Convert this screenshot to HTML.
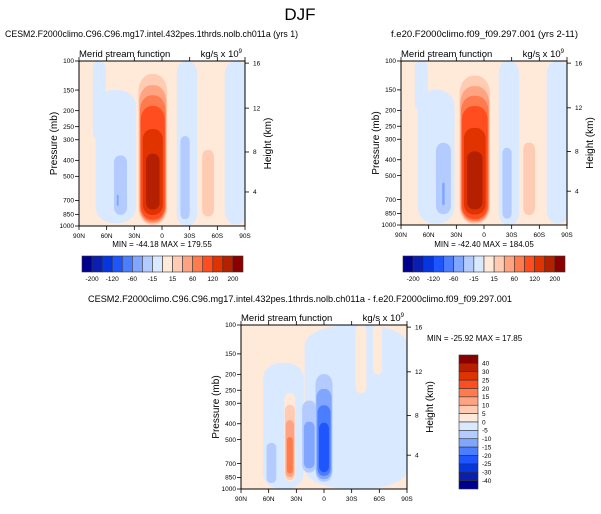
<!DOCTYPE html>
<html><head><meta charset="utf-8">
<style>
html,body{margin:0;padding:0;background:#fff;}
body{width:601px;height:509px;overflow:hidden;font-family:"Liberation Sans",sans-serif;}
svg text{font-family:"Liberation Sans",sans-serif;fill:#000;}
</style></head>
<body>
<svg id="chart" width="601" height="509" viewBox="0 0 601 509" xmlns="http://www.w3.org/2000/svg">
<text x="300" y="20" font-size="17" text-anchor="middle">DJF</text>
</svg>
<script>
// ---------- data ----------
const pressureTicks = [100,150,200,250,300,400,500,700,850,1000];
const heightTicksKm = [4,8,12,16];
const heightTickPressures = [622,356,193,103];
const latTicks = [90,60,30,0,-30,-60,-90];
const latTickLabels = ['90N','60N','30N','0','30S','60S','90S'];
const levelsMain = [-200,-160,-120,-80,-60,-40,-15,0,15,40,60,80,120,160,200];
const levelLabelsMain = ['-200','-120','-60','-15','15','60','120','200'];
const levelsDiff = [-40,-30,-25,-20,-15,-10,-5,0,5,10,15,20,25,30,40];
const palette = ['#00008f','#0a1fb0','#0536e0','#1e55ff','#4a7dff','#80a6ff','#b3cbff','#d9e9ff','#ffe9d9','#ffcbb3','#ffa482','#ff7a4d','#ff4d1f','#e03300','#b52000','#8a0000'];
// cells: [lat centre, lat half-width, p top, p bottom, peak value]
const cellsP1 = [
 [68,7,100,300,-10],[50,22,150,960,-10],[45,9,270,900,-30],[48,3,480,800,-42],
 [10,16,112,990,179],[-27,11,100,1000,-10],[-25,6,210,950,-38],
 [-50,8,250,920,32],[-80,12,100,980,-8]
];
const cellsP2 = [
 [68,7,100,200,-10],[52,20,150,980,-10],[44,10,230,900,-34],[44,4,300,850,-42],
 [10,17,115,990,184],[-27,11,100,1000,-10],[-25,6,260,950,-38],
 [-49,8,220,920,32],[-80,12,100,980,-8]
];
const cellsDiff = [
 [-35,56,100,1000,-4],[44,22,170,1000,-4],[-40,6,100,260,3],[-58,5,100,200,3],
 [57,7,400,960,-9],[16,9,230,820,-14],[0,10,170,920,-24],[37,6,260,900,18]
];
// ---------- helpers ----------
const NS='http://www.w3.org/2000/svg';
const svg=document.getElementById('chart');
function mk(tag,attrs,parent){const e=document.createElementNS(NS,tag);for(const k in attrs)e.setAttribute(k,attrs[k]);(parent||svg).appendChild(e);return e;}
function colorIndex(v,levels){let i=0;while(i<levels.length&&v>levels[i])i++;return i;}

function panel(opt){
 const {L,T,W,H,cells,levels,name}=opt;
 const g=mk('g',{});
 
 
 const xS=lat=>L+(90-lat)/180*W;
 const yS=p=>T+(Math.log10(p)-2)*H;
 const clipId='clip-'+name;
 const cp=mk('clipPath',{id:clipId},g);
 mk('rect',{x:L,y:T,width:W,height:H},cp);
 const fg=mk('g',{'clip-path':'url(#'+clipId+')'},g);
 const bg=mk('rect',{x:L,y:T,width:W,height:H,fill:palette[8]},fg);
 
 
 cells.forEach((c)=>{
  const [lat,hw,pt,pb,peak]=c;
  const lt=Math.log10(pt),lb=Math.log10(pb),span=lb-lt;
  const lv=levels.filter(l=>peak>0?(l>=0&&l<peak):(l<0&&l>peak));
  if(peak>0)lv.sort((a,b)=>a-b);else lv.sort((a,b)=>b-a);
  if(!lv.length) lv.push(0);
  lv.forEach(l=>{
   const s=Math.abs(l)/Math.abs(peak);
   const w=hw*Math.pow(Math.max(1-s,0.03),0.35);
   const top=lt+span*0.62*Math.pow(s,1.2);
   const bot=lb-span*0.12*Math.pow(s,1.5);
   const x1=xS(lat+w),x2=xS(lat-w);
   const y1=yS(Math.pow(10,top)),y2=yS(Math.pow(10,bot));
   const ci2=peak>0?colorIndex(l+0.001,levels):colorIndex(l-0.001,levels);
   const r=mk('rect',{x:x1,y:y1,width:x2-x1,height:y2-y1,rx:(x2-x1)*0.45,ry:Math.min((y2-y1)*0.12,(x2-x1)*0.6),fill:palette[ci2]},fg);
   
   
  });
 });
 const fr=mk('rect',{x:L,y:T,width:W,height:H,fill:'none',stroke:'#000','stroke-width':1},g);
 
 
 pressureTicks.forEach(p=>{
  const y=yS(p);
  mk('line',{x1:L,x2:L-4,y1:y,y2:y,stroke:'#000','stroke-width':0.8},g);
  const t=mk('text',{x:L-5,y:y+2.2,'font-size':6.5,'text-anchor':'end'},g);t.textContent=p;
  
  
 });
 heightTicksKm.forEach((h,i)=>{
  const y=yS(heightTickPressures[i]);
  mk('line',{x1:L+W,x2:L+W+4,y1:y,y2:y,stroke:'#000','stroke-width':0.8},g);
  const t=mk('text',{x:L+W+8,y:y+2.2,'font-size':6.5},g);t.textContent=h;
  
  
 });
 latTicks.forEach((lat,i)=>{
  const x=xS(lat);
  mk('line',{x1:x,x2:x,y1:T+H,y2:T+H+4,stroke:'#000','stroke-width':0.8},g);
  mk('line',{x1:x,x2:x,y1:T,y2:T-4,stroke:'#000','stroke-width':0.8},g);
  const t=mk('text',{x:x,y:T+H+12,'font-size':6.5,'text-anchor':'middle'},g);t.textContent=latTickLabels[i];
  
  
 });
 const yl=mk('text',{x:L-22,y:T+H/2,'font-size':10,'text-anchor':'middle',transform:`rotate(-90 ${L-22} ${T+H/2})`},g);yl.textContent='Pressure (mb)';
 
 
 const yr=mk('text',{x:L+W+26,y:T+H/2,'font-size':10,'text-anchor':'middle',transform:`rotate(-90 ${L+W+26} ${T+H/2})`},g);yr.textContent='Height (km)';
 
 
 const st=mk('text',{x:L,y:T-4,'font-size':9.5},g);st.textContent='Merid stream function';
 
 
 const un=mk('text',{x:L+W-3,y:T-4,'font-size':9.5,'text-anchor':'end'},g);
 un.innerHTML='kg/s x 10<tspan font-size="6" dy="-4">9</tspan>';
 
 
 const tt=mk('text',{x:opt.titleX,y:opt.titleY,'font-size':9.5,textLength:opt.titleLen,lengthAdjust:'spacingAndGlyphs'},g);tt.textContent=opt.title;
 
 
 const mm=mk('text',{x:opt.mmX,y:opt.mmY,'font-size':8,'text-anchor':opt.mmAnchor||'middle'},g);mm.textContent=opt.minmax;
 
 
}

function hColorbar(x,y,w,h,name){
 const g=mk('g',{});
 
 
 const bw=w/16;
 palette.forEach((c,i)=>{
  const r=mk('rect',{x:x+i*bw,y:y,width:bw,height:h,fill:c,stroke:'#333','stroke-width':0.6},g);
  
  
 });
 levelLabelsMain.forEach((l,i)=>{
  const t=mk('text',{x:x+(2*i+1)*bw,y:y+h+9,'font-size':6.5,'text-anchor':'middle'},g);t.textContent=l;
  
  
 });
}
function vColorbar(x,y,w,h,name){
 const g=mk('g',{});
 
 
 const bh=h/16;
 palette.slice().reverse().forEach((c,i)=>{
  const r=mk('rect',{x:x,y:y+i*bh,width:w,height:bh,fill:c,stroke:'#333','stroke-width':0.6},g);
  
  
 });
 levelsDiff.slice().reverse().forEach((l,i)=>{
  const t=mk('text',{x:x+w+4,y:y+(i+1)*bh+2.3,'font-size':6.5},g);t.textContent=l;
  
  
 });
}

panel({L:79,T:61,W:166,H:165,cells:cellsP1,levels:levelsMain,name:'panel-cesm2',
 title:'CESM2.F2000climo.C96.C96.mg17.intel.432pes.1thrds.nolb.ch011a (yrs 1)',titleX:5,titleY:37,titleLen:293,
 minmax:'MIN = -44.18  MAX = 179.55',mmX:162,mmY:247});
panel({L:401,T:61,W:166,H:164,cells:cellsP2,levels:levelsMain,name:'panel-fe20',
 title:'f.e20.F2000climo.f09_f09.297.001 (yrs 2-11)',titleX:391,titleY:37,titleLen:187,
 minmax:'MIN = -42.40  MAX = 184.05',mmX:484,mmY:247});
panel({L:241,T:325,W:166,H:164,cells:cellsDiff,levels:levelsDiff,name:'panel-difference',
 title:'CESM2.F2000climo.C96.C96.mg17.intel.432pes.1thrds.nolb.ch011a - f.e20.F2000climo.f09_f09.297.001',titleX:88,titleY:302,titleLen:424,
 minmax:'MIN = -25.92  MAX = 17.85',mmX:427,mmY:341,mmAnchor:'start'});
hColorbar(82,256,161,16,'colorbar-cesm2');
hColorbar(403,256,162,16,'colorbar-fe20');
vColorbar(459,355,19,134,'colorbar-difference');
</script>
</body></html>
